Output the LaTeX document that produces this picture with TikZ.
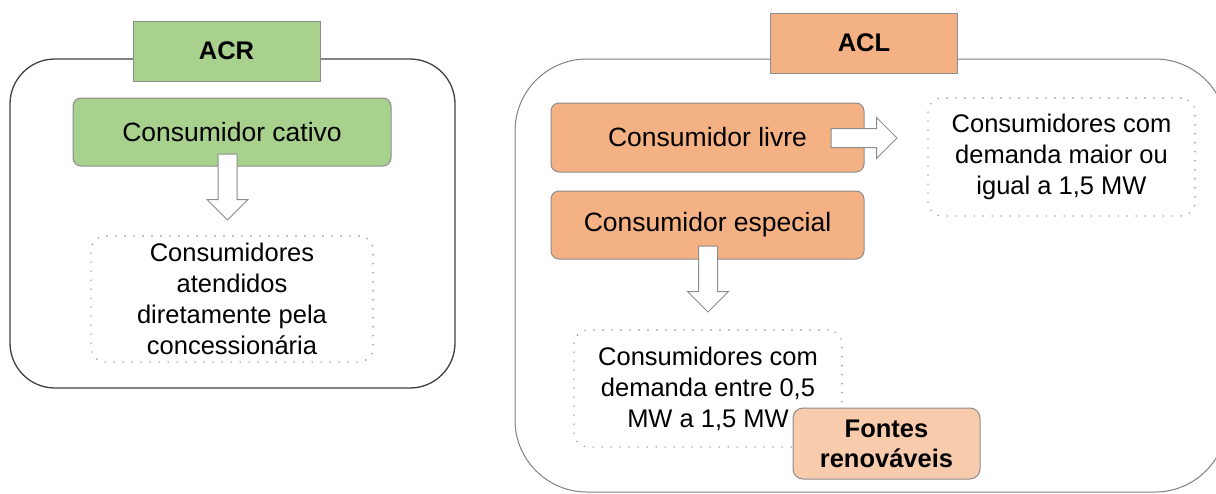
\documentclass[tikz,border=0pt]{standalone}
\usepackage{fontspec}
\setmainfont{Liberation Sans}
\usepackage{tikz}
\usetikzlibrary{shapes,shapes.arrows,calc,positioning}
\usepackage{xcolor}
\definecolor{acrgreen}{HTML}{A9D18E}
\definecolor{aclorange}{HTML}{F4B183}
\definecolor{aclpeach}{HTML}{F8CBAD}
\definecolor{framegray}{HTML}{8C8C8C}

\begin{document}
\begin{tikzpicture}[x=1pt,y=1pt,
	  every node/.style={align=center,text=black,inner sep=0pt},
	  acrframe/.style={draw=black!75,line width=1.3pt,rounded corners=45pt},
	  aclframe/.style={draw=black!50,line width=1pt,rounded corners=72pt},
	  header/.style={draw=framegray,line width=1pt,minimum width=187,minimum height=60,font=\bfseries\fontsize{25.5}{30}\selectfont},
	  consumer/.style={draw=framegray,line width=1pt,rounded corners=8pt,minimum height=68,font=\fontsize{26.5}{30}\selectfont},
	  group/.style={draw=black!45,line width=1.6pt,dash pattern=on 0pt off 9pt,line cap=round,rounded corners=14pt,font=\fontsize{25.5}{31}\selectfont},
	  blockarrow/.style={single arrow,draw=black!45,line width=1pt,fill=white,inner xsep=0pt,inner ysep=9pt,single arrow head extend=11pt,minimum height=66}]

	  \useasboundingbox (0,0) rectangle (1216,-493);

	  % the two markets
	  \node[acrframe,minimum width=445,minimum height=329] (acrpanel) at (232.5,-223.5) {};
	  \node[aclframe,minimum width=712,minimum height=433] (aclpanel) at (871,-275.5) {};
	  \node[header,fill=acrgreen] (acr) at (226.5,-51) {ACR};
	  \node[header,fill=aclorange] (acl) at (864,-43) {ACL};

	  % ACR
	  \node[consumer,fill=acrgreen,minimum width=318] (cativo) at (232,-132) {Consumidor cativo};
	  \node[group,minimum width=282,minimum height=126] (atendidos) at (232,-299) {Consumidores\\atendidos\\diretamente pela\\concessionária};
	  \node[blockarrow,rotate=-90,anchor=tail] (cativoarrow) at ($(cativo.south)+(-4.5,13)$) {};

	  % ACL
	  \node[consumer,fill=aclorange,minimum width=313,minimum height=69] (livre) at (707.5,-137.5) {Consumidor livre};
	  \node[consumer,fill=aclorange,minimum width=313] (especial) at (707.5,-225) {Consumidor especial};
	  \node[group,minimum width=267,minimum height=118] (maior) at (1061.5,-157) {Consumidores com\\demanda maior ou\\igual a 1,5 MW};
	  \node[group,minimum width=268,minimum height=117] (entre) at (708,-388.5) {Consumidores com\\demanda entre 0,5\\MW a 1,5 MW};
	  \node[blockarrow,anchor=tail] (livrearrow) at ($(livre.east)+(-34,-0.5)$) {};
	  \node[blockarrow,rotate=-90,anchor=tail] (especialarrow) at ($(especial.south)+(0.5,14)$) {};
	  \node[consumer,fill=aclpeach,rounded corners=10pt,minimum width=187,minimum height=71,font=\bfseries\fontsize{25.5}{30}\selectfont] (fontes) at (886.5,-443.5) {Fontes\\renováveis};
\end{tikzpicture}
\end{document}
